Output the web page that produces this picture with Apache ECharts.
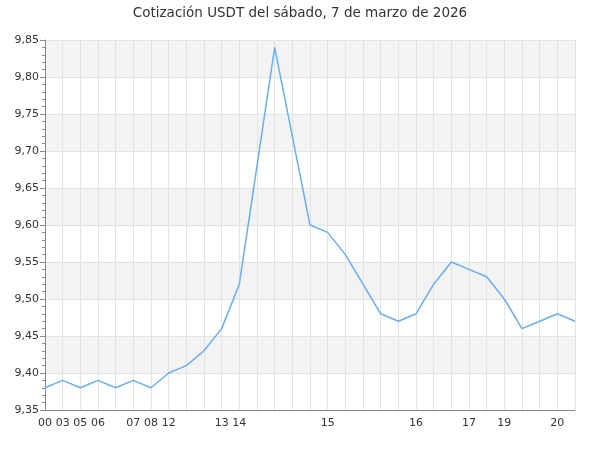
<!DOCTYPE html>
<html>
<head>
<meta charset="utf-8">
<script src="https://cdn.jsdelivr.net/npm/echarts@6/dist/echarts.min.js"></script>
<style>html,body{margin:0;padding:0;background:#fff;}#c{width:600px;height:450px;}</style>
</head>
<body>
<div id="c"></div>
<script>
var titleText = 'Cotización USDT del sábado, 7 de marzo de 2026';
var hours = ['00','03','05','06','06','07','08','12','12','12','13','14','14','14','14','14','15','15','15','15','15','16','16','16','17','17','19','19','19','20','20'];
var prices = [9.38,9.39,9.38,9.39,9.38,9.39,9.38,9.40,9.41,9.43,9.46,9.52,9.68,9.84,9.72,9.60,9.59,9.56,9.52,9.48,9.47,9.48,9.52,9.55,9.54,9.53,9.50,9.46,9.47,9.48,9.47];
var yMin = 9.35, yMax = 9.85, yStep = 0.05;

var chart = echarts.init(document.getElementById('c'), null, {renderer: 'canvas'});
chart.setOption({
  animation: false,
  backgroundColor: '#fff',
  title: {
    text: titleText, left: 'center', top: 1,
    textStyle: {fontFamily: 'DejaVu Sans', fontSize: 13.5, fontWeight: 'normal', color: '#333'}
  },
  grid: {left: 45, right: 25, top: 40, bottom: 40},
  xAxis: {
    type: 'category', data: hours, boundaryGap: false,
    axisLine: {show: true, lineStyle: {color: '#888'}},
    axisTick: {show: false},
    axisLabel: {
      fontFamily: 'DejaVu Sans', fontSize: 11, color: '#333', margin: 8,
      interval: function (i) { return i === 0 || hours[i] !== hours[i - 1]; }
    },
    splitLine: {show: true, interval: 0, lineStyle: {color: '#e3e3e3'}}
  },
  yAxis: {
    type: 'value', min: yMin, max: yMax, interval: yStep,
    axisLine: {show: true, lineStyle: {color: '#888'}},
    axisTick: {show: true, length: 5, lineStyle: {color: '#888'}},
    minorTick: {show: true, splitNumber: 5, length: 3, lineStyle: {color: '#888'}},
    axisLabel: {
      fontFamily: 'DejaVu Sans', fontSize: 11, color: '#333', margin: 6,
      formatter: function (v) { return v.toFixed(2).replace('.', ','); }
    },
    splitLine: {show: true, lineStyle: {color: '#e3e3e3'}},
    splitArea: {show: true, areaStyle: {color: ['#ffffff', '#f3f3f3']}}
  },
  series: [{
    type: 'line', data: prices, symbol: 'none', smooth: false,
    lineStyle: {color: '#6aaef2', width: 1.5}
  }]
});
</script>
</body>
</html>
